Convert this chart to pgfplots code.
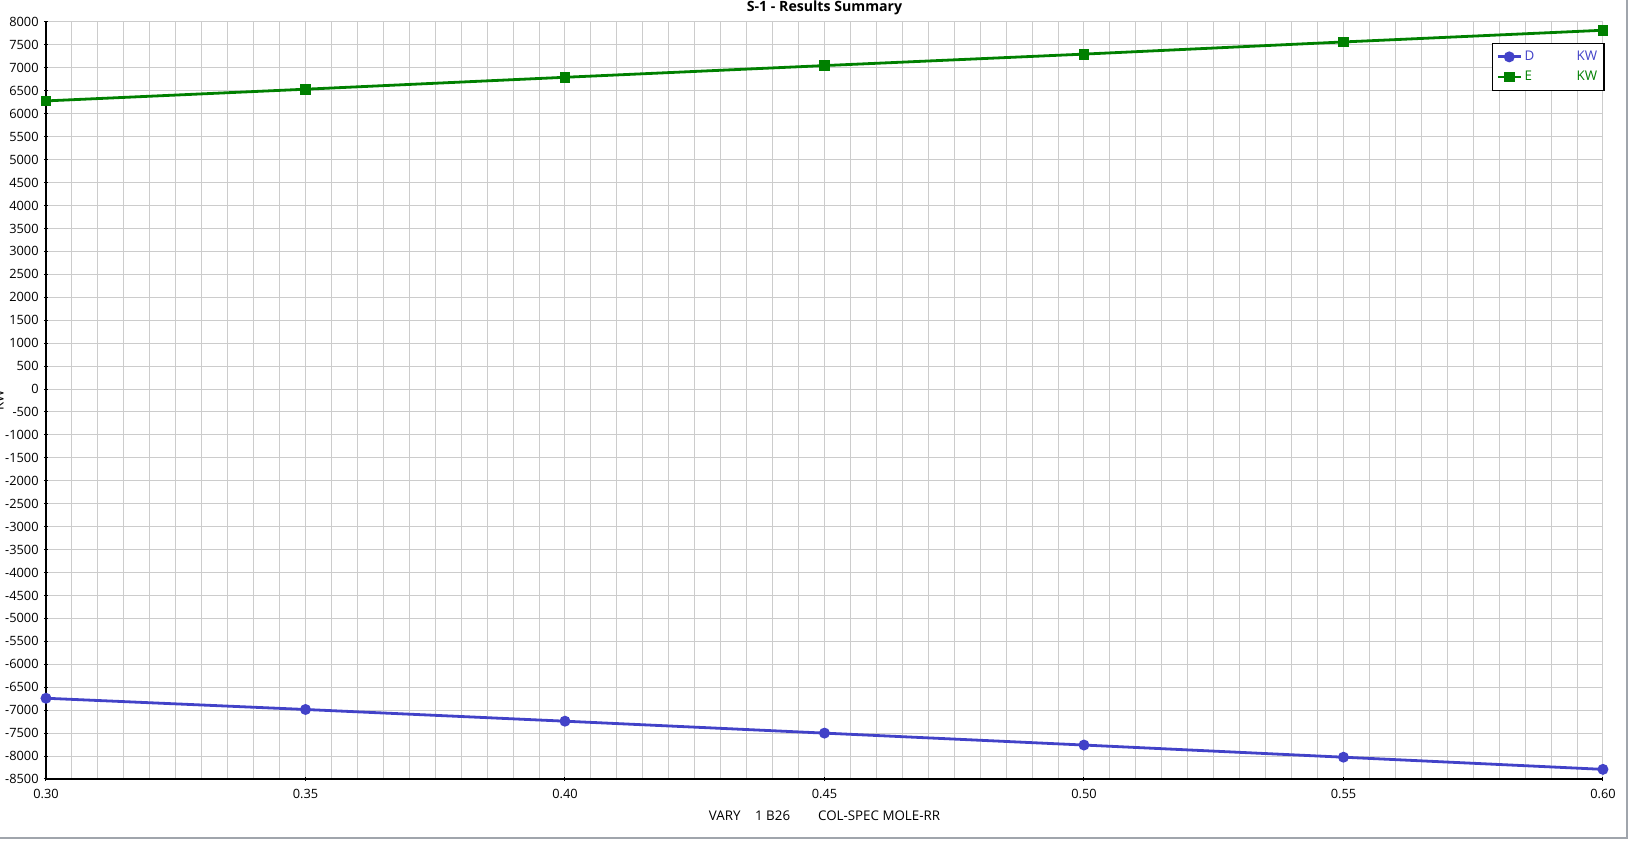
\documentclass[border=0pt]{standalone}
\usepackage{fontspec}
\setmainfont{Open Sans}
\usepackage{pgfplots}
\pgfplotsset{compat=1.18}
\definecolor{dblue}{RGB}{66,66,200}
\definecolor{egreen}{RGB}{0,128,0}
\definecolor{gridc}{RGB}{204,204,204}
\definecolor{framec}{RGB}{160,165,172}
\begin{document}
\fontsize{10}{12}\selectfont
\begin{tikzpicture}
\useasboundingbox (-34.5pt,-47.25pt) rectangle (1187.25pt,584.25pt);
\begin{axis}[
  at={(0,0)}, anchor=south west,
  scale only axis, width=1167.75pt, height=567.75pt,
  xmin=0.30, xmax=0.60, ymin=-8500, ymax=8000,
  xtick={0.30,0.35,...,0.61},
  ytick={-8500,-8000,...,8000},
  minor x tick num=9,
  grid=both,
  major grid style={gridc, line width=0.75pt},
  minor grid style={gridc, line width=0.75pt},
  minor tick length=0pt,
  major tick length=3pt,
  axis x line=bottom, axis y line=left,
  axis line style={-, black, line width=0.9pt},
  tick style={black, line width=0.75pt},
  /pgf/number format/assume math mode=true,
  ticklabel style={font=\fontsize{9.6}{11}\selectfont},
  xticklabel style={/pgf/number format/.cd, fixed, fixed zerofill, precision=2, /tikz/.cd, yshift=-3pt},
  yticklabel style={/pgf/number format/.cd, 1000 sep={}, /tikz/.cd, xshift=-0.5pt},
  legend style={draw=black, line width=0.9pt, at={(rel axis cs:1.001,0.972)}, anchor=north east,
    font=\fontsize{10}{12}\selectfont, row sep=2.5pt, inner xsep=3pt, inner ysep=3.5pt},
  legend cell align=left,
  clip=false,
]
\addplot[dblue, line width=2.1pt, mark=*, mark size=3pt, mark options={solid}] coordinates {
 (0.30,-6740) (0.35,-6985) (0.40,-7240) (0.45,-7500) (0.50,-7760) (0.55,-8025) (0.60,-8290)};
\addlegendentry{\textcolor{dblue}{\makebox[39pt][l]{D}KW}}
\addplot[egreen, line width=2.1pt, mark=square*, mark size=3pt, mark options={solid}] coordinates {
 (0.30,6280) (0.35,6535) (0.40,6795) (0.45,7050) (0.50,7300) (0.55,7565) (0.60,7820)};
\addlegendentry{\textcolor{egreen}{\makebox[39pt][l]{E}KW}}
\end{axis}
\node[anchor=north, inner sep=0pt, font=\bfseries\fontsize{10.6}{12}\selectfont] at (583.875pt,583.5pt) {S-1 - Results Summary};
\node[anchor=base, inner sep=0pt] at (583.875pt,-31.5pt) {VARY\hspace{11pt}1 B26\hspace{21pt}COL-SPEC MOLE-RR};
\node[rotate=90, anchor=south, inner sep=0pt] at (-31.5pt,283.9pt) {KW};
\draw[framec, line width=1.2pt] (-34.5pt,-44.25pt) -- (1185.75pt,-44.25pt) -- (1185.75pt,584.25pt);
\end{tikzpicture}
\end{document}
